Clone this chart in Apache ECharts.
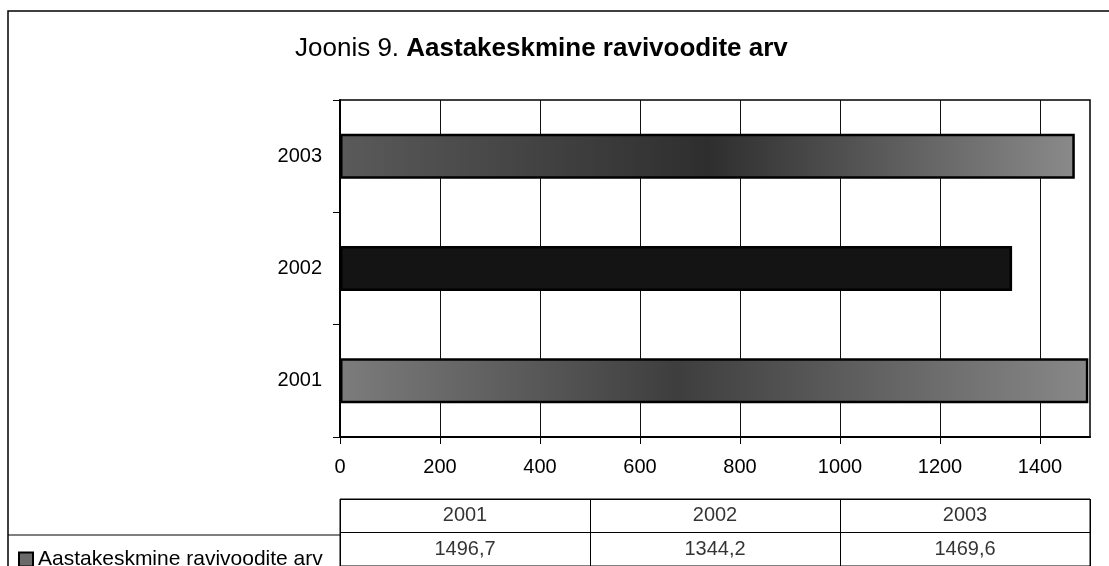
<!DOCTYPE html>
<html>
<head>
<meta charset="utf-8">
<script src="https://cdn.jsdelivr.net/npm/echarts@6/dist/echarts.min.js"></script>
<style>
  html, body { margin: 0; padding: 0; background: #fff; }
  #chart { width: 1109px; height: 566px; }
</style>
</head>
<body>
<div id="chart"></div>
<script>
const years = ['2001', '2002', '2003']
const beds = [1496.7, 1344.2, 1469.6]
const xTicks = [0, 200, 400, 600, 800, 1000, 1200, 1400]
const seriesName = 'Aastakeskmine ravivoodite arv'
const tableRows = ['head', 'vals']

// bar fills, one per year (scanned texture approximated with gradients)
const barFills = [
  new echarts.graphic.LinearGradient(0, 0, 1, 0, [
    { offset: 0, color: '#7c7c7c' },
    { offset: 0.45, color: '#3e3e3e' },
    { offset: 1, color: '#888888' }
  ]),
  '#141414',
  new echarts.graphic.LinearGradient(0, 0, 1, 0, [
    { offset: 0, color: '#5a5a5a' },
    { offset: 0.5, color: '#2e2e2e' },
    { offset: 1, color: '#8a8a8a' }
  ])
]

const fmt = v => String(v).replace('.', ',')
const font = 'Liberation Sans, Arial, sans-serif'

const chart = echarts.init(document.getElementById('chart'))

const option = {
  backgroundColor: '#fff',
  animation: false,
  textStyle: { fontFamily: font, color: '#000' },
  title: {
    left: 290,
    top: 31,
    text: '{n|Joonis 9. }{b|Aastakeskmine ravivoodite arv}',
    textStyle: {
      fontWeight: 'normal',
      rich: {
        n: { fontSize: 26, fontFamily: font, fontWeight: 'normal', color: '#000' },
        b: { fontSize: 26, fontFamily: font, fontWeight: 'bold', color: '#000' }
      }
    }
  },
  legend: {
    data: [seriesName],
    left: 13,
    top: 544,
    icon: 'rect',
    itemWidth: 14,
    itemHeight: 14,
    itemGap: 6,
    textStyle: { fontSize: 21, fontFamily: font, color: '#000' }
  },
  grid: [
    {
      left: 340, right: 19, top: 100, bottom: 129,
      show: true, borderColor: '#000', borderWidth: 1.5
    },
    {
      left: 340, right: 19, top: 499, height: 72,
      show: true, borderColor: '#000', borderWidth: 1
    }
  ],
  xAxis: [
    {
      gridIndex: 0,
      type: 'value',
      min: 0,
      max: 1500,
      interval: 200,
      axisLine: { show: true, lineStyle: { color: '#000', width: 2 } },
      axisTick: { show: true, length: 7, customValues: xTicks, lineStyle: { color: '#000' } },
      axisLabel: {
        customValues: xTicks, fontSize: 20, margin: 20, color: '#000', fontFamily: font,
        formatter: v => String(v)
      },
      splitLine: { show: true, lineStyle: { color: '#111', width: 1 } }
    },
    {
      gridIndex: 1,
      type: 'category',
      data: years,
      axisLine: { show: false },
      axisTick: { show: false },
      axisLabel: { show: false },
      splitLine: { show: true, interval: 0, lineStyle: { color: '#000', width: 1 } }
    }
  ],
  yAxis: [
    {
      gridIndex: 0,
      type: 'category',
      data: years,
      axisLine: { show: true, lineStyle: { color: '#000', width: 2 } },
      axisTick: { show: true, length: 7, lineStyle: { color: '#000' } },
      axisLabel: { fontSize: 20, margin: 18, color: '#000', fontFamily: font },
      splitLine: { show: false }
    },
    {
      gridIndex: 1,
      type: 'category',
      data: tableRows,
      inverse: true,
      axisLine: { show: false },
      axisTick: { show: false },
      axisLabel: { show: false },
      splitLine: { show: true, interval: 0, lineStyle: { color: '#000', width: 1 } }
    }
  ],
  series: [
    {
      name: seriesName,
      type: 'bar',
      xAxisIndex: 0,
      yAxisIndex: 0,
      barWidth: 45,
      itemStyle: { color: '#6a6a6a', borderColor: '#000', borderWidth: 2.5 },
      data: beds.map((v, i) => ({ value: v, itemStyle: { color: barFills[i] } }))
    },
    {
      name: 'table-head',
      type: 'scatter',
      xAxisIndex: 1,
      yAxisIndex: 1,
      symbolSize: 0,
      silent: true,
      label: {
        show: true, position: 'inside', fontSize: 20, fontFamily: font, color: '#000',
        formatter: p => years[p.dataIndex]
      },
      data: years.map((y, i) => [i, 0])
    },
    {
      name: 'table-vals',
      type: 'scatter',
      xAxisIndex: 1,
      yAxisIndex: 1,
      symbolSize: 0,
      silent: true,
      label: {
        show: true, position: 'inside', fontSize: 20, fontFamily: font, color: '#000',
        formatter: p => fmt(beds[p.dataIndex])
      },
      data: beds.map((v, i) => [i, 1])
    }
  ],
  graphic: [
    // outer chart frame (runs past the photographed area)
    {
      type: 'rect', silent: true,
      shape: { x: 8, y: 11, width: 1200, height: 700 },
      style: { fill: null, stroke: '#000', lineWidth: 1.5 }
    },
    // top border of the legend cell in the data table
    {
      type: 'line', silent: true,
      shape: { x1: 8, y1: 535, x2: 340, y2: 535 },
      style: { stroke: '#000', lineWidth: 1 }
    }
  ]
}

chart.setOption(option)
</script>
</body>
</html>
